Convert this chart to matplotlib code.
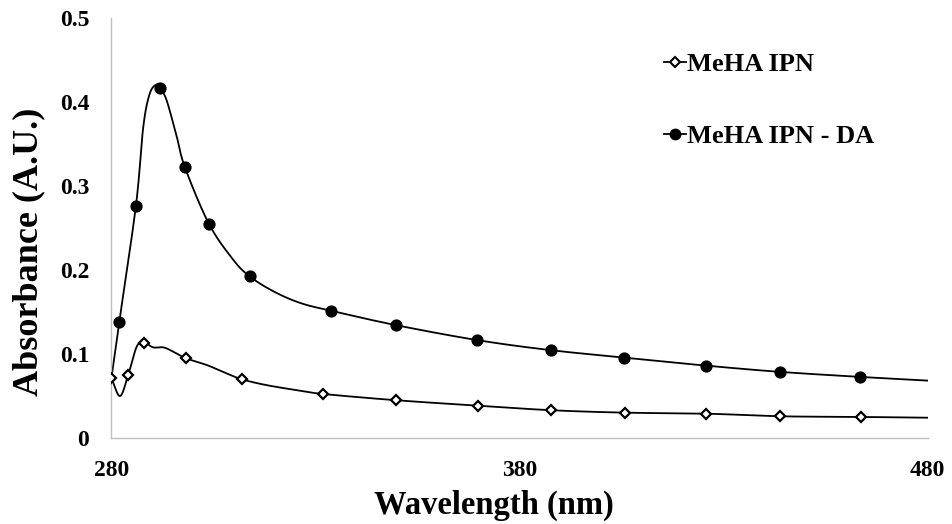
import numpy as np
import matplotlib
matplotlib.use("Agg")
import matplotlib.pyplot as plt
from matplotlib.lines import Line2D

# ---- data ----
# MeHA IPN - DA : traced curve samples
da_curve_wl = [280, 281.9, 286.0, 287.8, 289.4, 291.1, 291.9, 293.5, 296.0, 298.0,
               303.9, 309.9, 313.9, 319.6, 326.2, 333.8, 349.7, 369.7, 387.6,
               405.7, 425.6, 443.8, 463.5, 480]
da_curve_abs = [0.072, 0.138, 0.277, 0.371, 0.4106, 0.4213, 0.4169, 0.4026, 0.359, 0.3225,
                0.255, 0.212, 0.1925, 0.175, 0.161, 0.1516, 0.1345, 0.1166, 0.1047,
                0.0958, 0.0863, 0.0788, 0.0728, 0.0684]
# MeHA IPN - DA : marked points
da_mark_wl = [281.9, 286.0, 291.9, 298.0, 303.9, 313.9, 333.8, 349.7, 369.7,
              387.6, 405.7, 425.6, 443.8, 463.5]
da_mark_abs = [0.138, 0.277, 0.4169, 0.3225, 0.255, 0.1925, 0.1516, 0.1345, 0.1166,
               0.1047, 0.0958, 0.0863, 0.0788, 0.0728]

# MeHA IPN : traced curve samples
ipn_curve_wl = [280, 282.1, 284.1, 286.2, 288.0, 290.2, 292.7, 295.1, 298.2, 303.3,
                308.2, 311.9, 318.0, 326.2, 331.8, 349.8, 369.9, 387.8, 405.9,
                425.7, 443.8, 463.6, 480]
ipn_curve_abs = [0.0712, 0.050, 0.0752, 0.109, 0.1137, 0.108, 0.108, 0.103, 0.0951,
                 0.0871, 0.077, 0.070, 0.063, 0.0564, 0.0525, 0.0450, 0.0385, 0.0331,
                 0.0302, 0.0290, 0.0259, 0.0251, 0.0242]
# MeHA IPN : marked points
ipn_mark_wl = [280.0, 284.1, 288.0, 298.2, 311.9, 331.8, 349.8, 369.9, 387.8,
               405.9, 425.7, 443.8, 463.6]
ipn_mark_abs = [0.0712, 0.0752, 0.1137, 0.0951, 0.070, 0.0525, 0.0450, 0.0385,
                0.0331, 0.0302, 0.0290, 0.0259, 0.0251]

series_labels = ["MeHA IPN", "MeHA IPN - DA"]
x_ticks = [280, 380, 480]
y_ticks = [0, 0.1, 0.2, 0.3, 0.4, 0.5]
y_tick_labels = ["0", "0.1", "0.2", "0.3", "0.4", "0.5"]


def smooth(xs, ys, n=24):
    """Catmull-Rom rendering of a line through the given samples (Excel-like smoothing)."""
    x = np.asarray(xs, float)
    y = np.asarray(ys, float)
    sx, sy = 200.0, 0.5
    P = np.column_stack([x / sx, y / sy])
    P = np.vstack([P[0] - (P[1] - P[0]), P, P[-1] + (P[-1] - P[-2])])
    out = []
    t = np.linspace(0, 1, n, endpoint=False)[:, None]
    for i in range(1, len(P) - 2):
        p0, p1, p2, p3 = P[i - 1], P[i], P[i + 1], P[i + 2]
        seg = 0.5 * ((2 * p1) + (-p0 + p2) * t + (2 * p0 - 5 * p1 + 4 * p2 - p3) * t ** 2
                     + (-p0 + 3 * p1 - 3 * p2 + p3) * t ** 3)
        out.append(seg)
    out.append(P[-2][None, :])
    out = np.vstack(out)
    return out[:, 0] * sx, out[:, 1] * sy


plt.rcParams['font.family'] = ['Liberation Serif', 'DejaVu Serif']
plt.rcParams['font.weight'] = 'bold'

fig = plt.figure(figsize=(9.52, 5.24), dpi=100)
ax = fig.add_axes([0.1171, 0.1641, 0.8572, 0.8009])

lw = 1.3
xs, ys = smooth(da_curve_wl, da_curve_abs)
ax.plot(xs, ys, color='black', lw=lw, zorder=2)
xs, ys = smooth(ipn_curve_wl, ipn_curve_abs)
ax.plot(xs, ys, color='black', lw=lw, zorder=2)

ax.plot(da_mark_wl, da_mark_abs, linestyle='none', marker='o', markersize=7.8,
        markerfacecolor='black', markeredgecolor='black', zorder=3)
ax.plot(ipn_mark_wl, ipn_mark_abs, linestyle='none', marker='D', markersize=5.6,
        markerfacecolor='white', markeredgecolor='black', markeredgewidth=1.6, zorder=3)

ax.set_xlim(280, 480)
ax.set_ylim(0, 0.5)
ax.set_xticks(x_ticks)
ax.set_xticklabels([str(v) for v in x_ticks])
ax.set_yticks(y_ticks)
ax.set_yticklabels(y_tick_labels)
ax.tick_params(axis='both', length=0, labelsize=17)
ax.tick_params(axis='x', pad=16)
ax.tick_params(axis='y', pad=16)

for side in ['top', 'right']:
    ax.spines[side].set_visible(False)
for side in ['left', 'bottom']:
    ax.spines[side].set_color('#bfbfbf')
    ax.spines[side].set_linewidth(1.0)

ax.set_xlabel("Wavelength (nm)", fontsize=23.5, fontweight='bold')
ax.xaxis.set_label_coords(0.469, -0.124)
ax.set_ylabel("Absorbance (A.U.)", fontsize=26, fontweight='bold')
ax.yaxis.set_label_coords(-0.0808, 0.443)

handles = [
    Line2D([], [], color='black', lw=lw, marker='D', markersize=5.0,
           markerfacecolor='white', markeredgecolor='black', markeredgewidth=1.5),
    Line2D([], [], color='black', lw=lw, marker='o', markersize=7.5,
           markerfacecolor='black', markeredgecolor='black'),
]
leg = ax.legend(handles, series_labels, loc='upper left', bbox_to_anchor=(0.664, 0.944),
                frameon=False, fontsize=19, handlelength=0.83, handletextpad=0.05,
                labelspacing=1.85, borderaxespad=0)

fig.savefig("out.png", dpi=100)
